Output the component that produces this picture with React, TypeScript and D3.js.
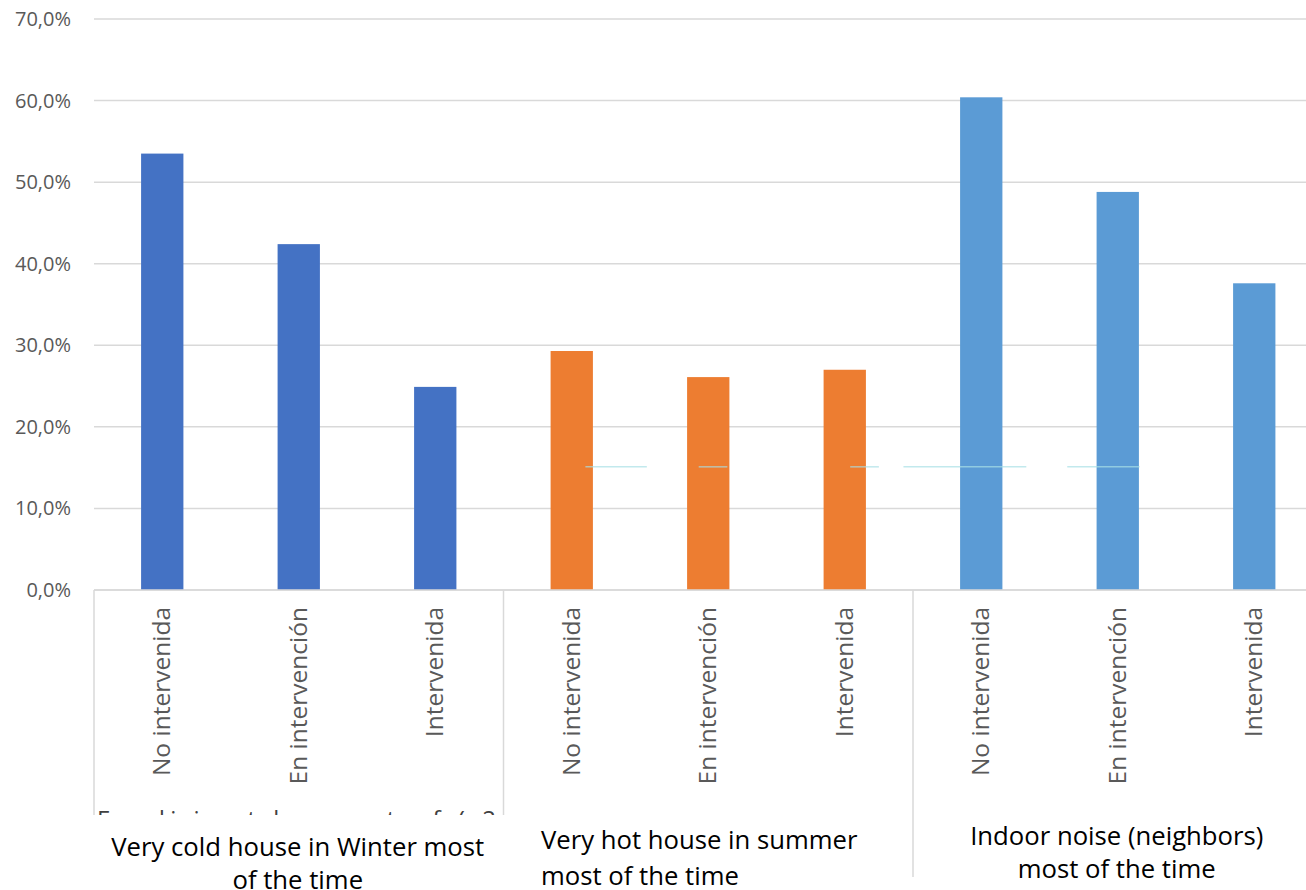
import React from "react";
import * as d3 from "d3";

// Survey shares (%) per housing status, one array per complaint
const categories = ["No intervenida", "En intervención", "Intervenida"];
const coldValues = [53.5, 42.4, 24.9];
const hotValues = [29.3, 26.1, 27.0];
const noiseValues = [60.4, 48.8, 37.6];
const groupLines = [
  ["Very cold house in Winter most", "of the time"],
  ["Very hot house in summer", "most of the time"],
  ["Indoor noise (neighbors)", "most of the time"],
];
const groupColors = ["#4472C4", "#ED7D31", "#5B9BD5"];
const yTicks = [0, 10, 20, 30, 40, 50, 60, 70];
// leftover reference line pieces at 15.1 %: [start, end] in category-slot units
const refLevel = 15.1;
const refPieces = [
  [3.6, 4.05],
  [4.43, 4.64],
  [5.54, 5.75],
  [5.93, 6.83],
  [7.13, 7.66],
];

const W = 1306;
const H = 890;
const left = 94;
const slot = 136.5;
const baseY = 590;
const topY = 19;
const font = "'Open Sans', 'Liberation Sans', sans-serif";

export default function App() {
  const series = [coldValues, hotValues, noiseValues];
  const bars = series.flatMap((vals, g) =>
    vals.map((v, i) => ({ g, i, v, key: `${g}-${i}`, label: categories[i] }))
  );
  const n = bars.length;
  const x = d3
    .scaleBand<number>()
    .domain(d3.range(n))
    .range([left, left + n * slot])
    .paddingInner(0)
    .paddingOuter(0);
  const y = d3.scaleLinear().domain([0, 70]).range([baseY, topY]);
  const barW = x.bandwidth() * 0.31;
  const slotX = d3.scaleLinear().domain([0, n]).range([left, left + n * slot]);
  const pct = d3.format(".1f");

  return (
    <svg
      width={W}
      height={H}
      style={{ position: "absolute", left: 0, top: 0, background: "#fff" }}
      fontFamily={font}
    >
      <defs>
        <clipPath id="cut-row">
          <rect x={0} y={809} width={W} height={6} />
        </clipPath>
      </defs>

      {/* gridlines and y tick labels */}
      {yTicks.map((t) => (
        <g key={t}>
          <line
            x1={left}
            x2={W}
            y1={y(t)}
            y2={y(t)}
            stroke="#d9d9d9"
            strokeWidth={1.5}
          />
          <text
            x={71}
            y={y(t)}
            dy="0.35em"
            textAnchor="end"
            fontSize={20}
            fill="#595959"
          >
            {pct(t).replace(".", ",")}%
          </text>
        </g>
      ))}

      {/* bars */}
      {bars.map((b, k) => (
        <rect
          key={b.key}
          x={(x(k) as number) + (x.bandwidth() - barW) / 2}
          y={y(b.v)}
          width={barW}
          height={y(0) - y(b.v)}
          fill={groupColors[b.g]}
        />
      ))}

      {/* faint leftover line pieces */}
      {refPieces.map(([a, c], k) => (
        <line
          key={k}
          x1={slotX(a)}
          x2={slotX(c)}
          y1={y(refLevel)}
          y2={y(refLevel)}
          stroke="#a8e0e6"
          strokeOpacity={0.7}
          strokeWidth={1.5}
        />
      ))}

      {/* category labels, rotated */}
      {bars.map((b, k) => {
        const cx = (x(k) as number) + x.bandwidth() / 2;
        return (
          <text
            key={b.key}
            transform={`translate(${cx + 8},${607}) rotate(-90)`}
            textAnchor="end"
            fontSize={24.5}
            fill="#595959"
          >
            {b.label}
          </text>
        );
      })}

      {/* group separators */}
      {groupLines.map((_, g) => {
        const gx = x(g * 3) as number;
        return (
          <line
            key={g}
            x1={gx}
            x2={gx}
            y1={baseY}
            y2={g === 2 ? 877 : 815}
            stroke="#d9d9d9"
            strokeWidth={1.5}
          />
        );
      })}

      {/* category axis line */}
      <line x1={left} x2={W} y1={baseY} y2={baseY} stroke="#d9d9d9" strokeWidth={1.5} />

      {/* clipped text row under the category labels */}
      <text
        x={97}
        y={828}
        fontSize={24}
        fill="#404040"
        clipPath="url(#cut-row)"
        letterSpacing={5.5}
      >
        Fordi i  a t   hs   most   of (.2
      </text>

      {/* group labels */}
      {groupLines.map((lines, g) => {
        const gx0 = x(g * 3) as number;
        const gcx = gx0 + (x.bandwidth() * 3) / 2;
        const y1 = [856, 849, 845][g];
        if (g === 1) {
          return (
            <g key={g}>
              <text x={541} y={y1} fontSize={25.7} fill="#000">
                {lines[0]}
              </text>
              <text x={541} y={y1 + 36} fontSize={25.7} fill="#000">
                {lines[1]}
              </text>
            </g>
          );
        }
        return (
          <g key={g}>
            {lines.map((ln, j) => (
              <text
                key={j}
                x={gcx - 1}
                y={y1 + j * 33}
                textAnchor="middle"
                fontSize={25.7}
                fill="#000"
              >
                {ln}
              </text>
            ))}
          </g>
        );
      })}
    </svg>
  );
}
